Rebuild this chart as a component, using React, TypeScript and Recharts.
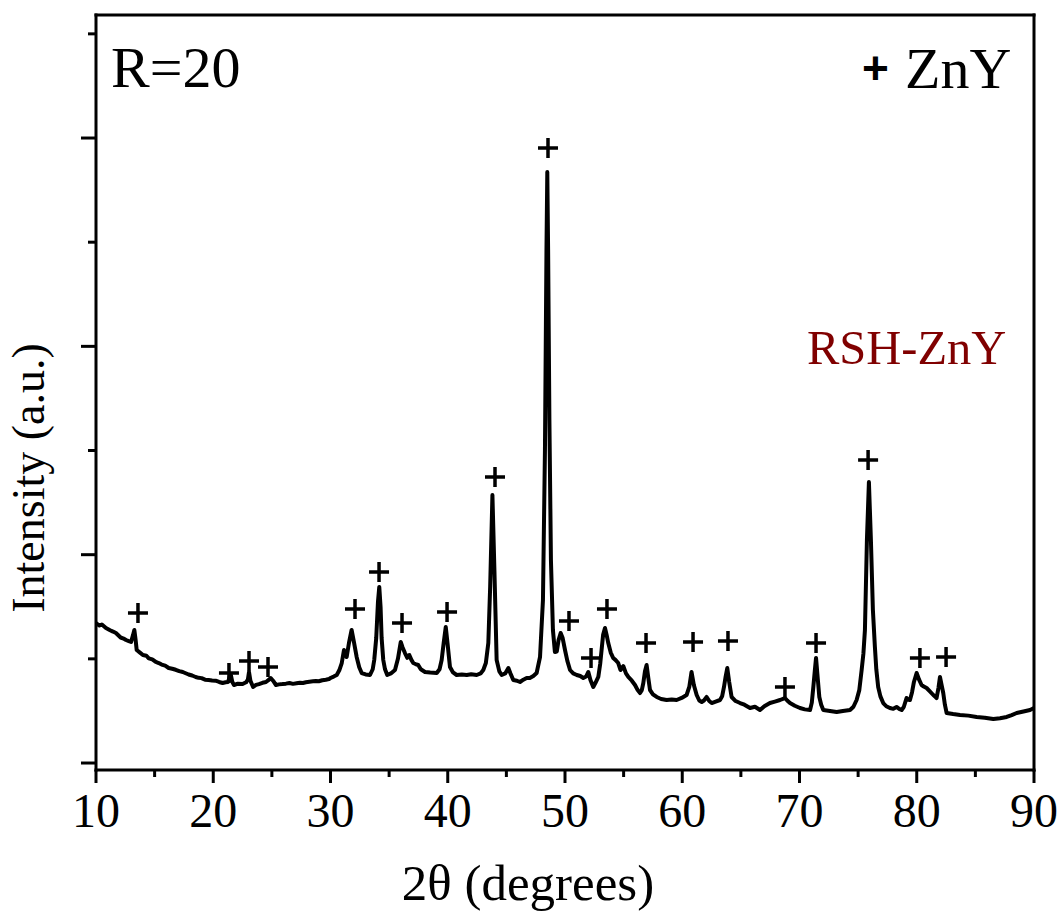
import { ComposedChart, Line, Scatter, XAxis, YAxis } from "recharts";

const SERIF = '"Times New Roman", "Liberation Serif", serif';
const SANS = '"Liberation Sans", Arial, sans-serif';

// XRD trace, 2θ in degrees and intensity in counts
const twoTheta = [
  10.0, 10.3, 10.5, 10.85, 11.2, 11.45, 11.7, 12.1, 12.35, 12.56, 12.8, 12.99, 13.15, 13.27, 13.38, 13.47, 13.75, 14.0, 14.3, 14.5,
  14.8, 15.1, 15.35, 15.6, 15.9, 16.2, 16.5, 16.8, 17.1, 17.4, 17.65, 17.9, 18.2, 18.5, 18.75, 19.0, 19.3, 19.6, 19.9, 20.2,
  20.5, 20.8, 21.05, 21.26, 21.4, 21.5, 21.62, 21.77, 22.1, 22.5, 22.8, 22.95, 23.05, 23.17, 23.4, 23.65, 23.9, 24.2, 24.5, 24.7,
  24.9, 25.1, 25.35, 25.6, 25.9, 26.2, 26.5, 26.8, 27.1, 27.4, 27.65, 27.9, 28.2, 28.5, 28.76, 29.0, 29.3, 29.6, 29.87, 30.0,
  30.27, 30.53, 30.75, 30.96, 31.15, 31.28, 31.38, 31.57, 31.8, 32.0, 32.23, 32.45, 32.66, 33.0, 33.37, 33.6, 33.73, 33.9, 34.05, 34.16,
  34.27, 34.36, 34.5, 34.65, 34.84, 35.15, 35.5, 35.75, 35.99, 36.15, 36.35, 36.55, 36.72, 36.9, 37.06, 37.25, 37.48, 37.7, 38.06, 38.5,
  39.06, 39.3, 39.48, 39.65, 39.83, 39.98, 40.19, 40.45, 40.76, 41.2, 41.62, 42.0, 42.47, 42.8, 43.03, 43.25, 43.46, 43.62, 43.81, 43.98,
  44.17, 44.4, 44.6, 44.9, 45.17, 45.35, 45.59, 45.9, 46.16, 46.45, 46.73, 47.0, 47.3, 47.58, 47.87, 48.12, 48.29, 48.42, 48.49, 48.56,
  48.67, 48.8, 48.97, 49.14, 49.3, 49.45, 49.63, 49.8, 50.0, 50.2, 50.43, 50.7, 51.0, 51.3, 51.56, 51.8, 51.99, 52.17, 52.41, 52.6,
  52.84, 53.0, 53.12, 53.25, 53.41, 53.55, 53.69, 53.9, 54.11, 54.3, 54.54, 54.73, 54.97, 55.2, 55.4, 55.7, 55.97, 56.2, 56.4, 56.55,
  56.68, 56.82, 56.96, 57.1, 57.25, 57.5, 57.82, 58.2, 58.67, 59.1, 59.52, 59.95, 60.37, 60.6, 60.79, 60.99, 61.23, 61.45, 61.66, 61.85,
  62.08, 62.3, 62.51, 62.85, 63.22, 63.4, 63.56, 63.7, 63.84, 64.0, 64.21, 64.55, 64.93, 65.3, 65.78, 66.2, 66.63, 67.0, 67.48, 67.9,
  68.34, 68.76, 68.95, 69.19, 69.6, 70.04, 70.45, 70.9, 71.05, 71.18, 71.3, 71.41, 71.55, 71.69, 71.85, 72.03, 72.6, 73.17, 73.7, 74.31,
  74.6, 74.87, 75.1, 75.3, 75.45, 75.58, 75.75, 75.92, 76.09, 76.26, 76.43, 76.55, 76.71, 76.9, 77.14, 77.4, 77.71, 78.0, 78.28, 78.5,
  78.71, 78.9, 79.13, 79.25, 79.42, 79.6, 79.76, 79.99, 80.2, 80.41, 80.6, 80.84, 81.1, 81.41, 81.55, 81.69, 81.85, 81.98, 82.1, 82.26,
  82.4, 82.55, 83.1, 83.69, 84.4, 85.11, 85.8, 86.53, 87.1, 87.67, 88.1, 88.52, 89.1, 89.66, 90.0,
];

const intensity = [
  1344, 1320, 1330, 1296, 1275, 1262, 1248, 1205, 1195, 1181, 1170, 1162, 1225, 1277, 1180, 1085, 1060, 1037, 1030, 1005,
  995, 970, 960, 945, 935, 912, 905, 895, 882, 874, 862, 850, 840, 826, 818, 815, 800, 797, 792, 790,
  778, 768, 775, 778, 830, 845, 780, 749, 762, 758, 775, 800, 874, 790, 730, 750, 758, 770, 778, 795,
  816, 790, 749, 755, 758, 762, 768, 760, 765, 770, 768, 775, 780, 784, 787, 785, 795, 800, 806, 816,
  830, 845, 890, 960, 1085, 1040, 1018, 1150, 1277, 1160, 1018, 920, 864, 850, 845, 900, 989, 1200, 1550, 1690,
  1500, 1200, 989, 900, 845, 860, 893, 1000, 1162, 1110, 1056, 1010, 1037, 990, 960, 950, 941, 900, 874, 868,
  864, 900, 989, 1150, 1306, 1150, 922, 870, 845, 850, 845, 852, 845, 860, 893, 960, 1152, 1700, 2573, 1850,
  989, 880, 845, 860, 912, 860, 797, 790, 778, 800, 816, 816, 835, 864, 1018, 1565, 3005, 4925, 5674, 4925,
  3293, 1949, 1277, 1066, 1070, 1180, 1248, 1200, 1085, 980, 893, 860, 845, 835, 816, 830, 874, 797, 730, 770,
  826, 950, 1085, 1230, 1296, 1230, 1152, 1060, 1008, 990, 960, 893, 931, 860, 826, 790, 749, 700, 672, 700,
  768, 880, 941, 820, 701, 660, 634, 615, 605, 610, 605, 625, 653, 730, 874, 749, 653, 600, 586, 600,
  634, 595, 576, 590, 605, 640, 730, 830, 912, 780, 634, 595, 576, 560, 528, 540, 509, 545, 576, 590,
  605, 624, 600, 576, 550, 528, 515, 509, 580, 730, 880, 1008, 820, 634, 560, 509, 500, 490, 500, 509,
  540, 605, 700, 893, 1050, 1277, 2141, 2698, 2141, 1469, 1114, 900, 730, 640, 576, 545, 528, 520, 538, 520,
  509, 540, 624, 610, 605, 680, 778, 864, 800, 749, 735, 720, 690, 653, 640, 624, 720, 826, 760, 672,
  560, 480, 470, 461, 455, 442, 435, 422, 430, 442, 460, 480, 495, 509, 528,
];

// ZnY reflections marked with "+"
const peakAngles = [13.58, 21.34, 23.05, 24.67, 32.09, 34.14, 36.1, 39.94, 44.03, 48.55, 50.34, 52.22, 53.58, 56.91, 60.92, 63.9, 68.76, 71.41, 75.85, 80.27, 82.5];
const peakMarkHeights = [1440, 864, 979, 922, 1478, 1834, 1344, 1450, 2746, 5904, 1363, 1008, 1478, 1152, 1162, 1171, 730, 1152, 2909, 1008, 1018];

const xTicks = [10, 15, 20, 25, 30, 35, 40, 45, 50, 55, 60, 65, 70, 75, 80, 85, 90];
const topTicks = [12, 14, 16, 18, 22, 24, 26, 28, 32, 34, 36, 38, 42, 44, 46, 48, 52, 54, 56, 58, 62, 64, 66, 68, 72, 74, 76, 78, 82, 84, 86, 88];
const yTicks = [0, 1000, 2000, 3000, 4000, 5000, 6000, 7000];

const trace = twoTheta.map((angle, i) => ({ angle, counts: intensity[i] }));
const marks = peakAngles.map((angle, i) => ({ angle, mark: peakMarkHeights[i] }));

const XTick = (props: any) => {
  const { x, y, payload } = props;
  const major = payload.value % 10 === 0;
  return (
    <g>
      <line x1={x} x2={x} y1={y} y2={y + (major ? 13 : 7)} stroke="#000" strokeWidth={3} />
      {major && (
        <text x={x} y={y + 57} textAnchor="middle" fontSize={48} fontFamily={SERIF} fill="#000">
          {payload.value}
        </text>
      )}
    </g>
  );
};

const YTick = (props: any) => {
  const { x, y, payload } = props;
  const major = payload.value % 2000 === 0;
  return <line x1={x - (major ? 15 : 8)} x2={x} y1={y} y2={y} stroke="#000" strokeWidth={3} />;
};

const PlusMark = (props: any) => {
  const { cx, cy } = props;
  return <path d={`M${cx - 10},${cy}H${cx + 10}M${cx},${cy - 10}V${cy + 10}`} stroke="#000" strokeWidth={3.5} fill="none" />;
};

const frame = { stroke: "#000", strokeWidth: 3, strokeLinecap: "square" as const };

export default function App() {
  return (
    <div style={{ position: "absolute", left: 0, top: 0, width: 1057, height: 911, background: "#fff", overflow: "hidden" }}>
      <ComposedChart width={1057} height={911} data={trace} margin={{ top: 14, right: 22, bottom: 140, left: 95 }}>
        <XAxis
          xAxisId="b"
          dataKey="angle"
          type="number"
          domain={[10, 90]}
          ticks={xTicks}
          height={1}
          tickSize={0}
          tickMargin={0}
          tickLine={false}
          axisLine={frame}
          tick={<XTick />}
          interval={0}
        />
        <XAxis
          xAxisId="t"
          orientation="top"
          dataKey="angle"
          type="number"
          domain={[10, 90]}
          ticks={topTicks}
          height={1}
          tickSize={2}
          tick={false}
          tickLine={{ stroke: "#000", strokeWidth: 1 }}
          axisLine={frame}
          interval={0}
        />
        <YAxis
          yAxisId="i"
          type="number"
          domain={[-67, 7181]}
          ticks={yTicks}
          width={1}
          tickSize={0}
          tickMargin={0}
          tickLine={false}
          axisLine={frame}
          tick={<YTick />}
          interval={0}
          allowDataOverflow
        />
        <YAxis
          yAxisId="r"
          orientation="right"
          type="number"
          domain={[-67, 7181]}
          width={1}
          tick={false}
          tickLine={false}
          axisLine={frame}
        />
        <Line
          xAxisId="b"
          yAxisId="i"
          type="linear"
          dataKey="counts"
          stroke="#000"
          strokeWidth={4}
          strokeLinejoin="round"
          dot={false}
          isAnimationActive={false}
        />
        <Scatter
          xAxisId="b"
          yAxisId="i"
          data={marks}
          dataKey="mark"
          shape={<PlusMark />}
          isAnimationActive={false}
        />
      </ComposedChart>
      <svg width={1057} height={911} style={{ position: "absolute", left: 0, top: 0, pointerEvents: "none" }}>
        <text x={111} y={87} fontSize={58} fontFamily={SERIF} fill="#000">R=20</text>
        <text x={875.5} y={84} fontSize={46} fontFamily={SANS} fontWeight="bold" textAnchor="middle" fill="#000">+</text>
        <text x={905} y={88} fontSize={58} fontFamily={SERIF} fill="#000">ZnY</text>
        <text x={807} y={364} fontSize={48.5} fontFamily={SERIF} fill="#800000">RSH-ZnY</text>
        <text x={528} y={900} fontSize={51} fontFamily={SERIF} textAnchor="middle" fill="#000">2θ (degrees)</text>
        <text
          transform="translate(44, 478) rotate(-90)"
          fontSize={46}
          fontFamily={SERIF}
          textAnchor="middle"
          fill="#000"
        >
          Intensity (a.u.)
        </text>
      </svg>
    </div>
  );
}
